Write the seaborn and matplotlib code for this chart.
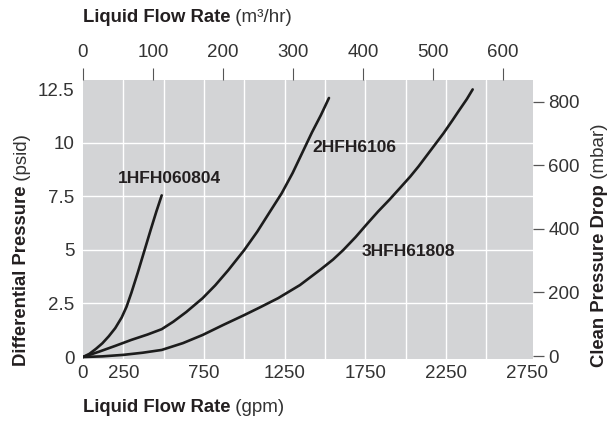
import pandas as pd
import numpy as np
import seaborn as sns
import matplotlib.pyplot as plt
import matplotlib

# curves: flow (gpm) vs differential pressure (psid)
gpm_1 = [0, 40, 80, 120, 160, 200, 240, 270, 300, 340, 380, 420, 455, 488]
psid_1 = [0, 0.15, 0.38, 0.64, 0.97, 1.35, 1.85, 2.35, 3.0, 3.95, 4.95, 5.95, 6.8, 7.55]

gpm_2 = [0, 100, 200, 300, 400, 488, 560, 640, 742, 820, 900, 1000, 1080, 1160,
         1232, 1300, 1360, 1420, 1475, 1525]
psid_2 = [0, 0.25, 0.52, 0.8, 1.05, 1.3, 1.65, 2.1, 2.75, 3.35, 4.05, 5.0, 5.85, 6.8,
          7.65, 8.6, 9.55, 10.5, 11.3, 12.1]

gpm_3 = [0, 120, 250, 370, 488, 620, 742, 870, 1000, 1100, 1210, 1345, 1475, 1550,
         1614, 1690, 1759, 1830, 1900, 1960, 2029, 2080, 2135, 2190, 2235, 2290, 2330,
         2380, 2416]
psid_3 = [0, 0.03, 0.1, 0.2, 0.33, 0.65, 1.03, 1.5, 1.96, 2.33, 2.75, 3.36, 4.1, 4.55,
          5.0, 5.6, 6.2, 6.8, 7.35, 7.85, 8.43, 8.9, 9.45, 10.0, 10.45, 11.05, 11.5,
          12.05, 12.5]

names = ['1HFH060804', '2HFH6106', '3HFH61808']
label_x = [539, 1680, 2015]
label_y = [8.36, 9.8, 4.95]

# axis ticks
gpm_ticks = [0, 250, 750, 1250, 1750, 2250, 2750]
gpm_grid = [250, 500, 750, 1000, 1250, 1500, 1750, 2000, 2250, 2500]
psid_ticks = [0, 2.5, 5, 7.5, 10, 12.5]
psid_labels = ['0', '2.5', '5', '7.5', '10', '12.5']
psid_grid = [2.5, 5, 7.5, 10]
m3hr_ticks = [0, 100, 200, 300, 400, 500, 600]
mbar_ticks = [0, 200, 400, 600, 800]

df = pd.concat([
    pd.DataFrame({'gpm': gpm_1, 'psid': psid_1, 'filter': names[0]}),
    pd.DataFrame({'gpm': gpm_2, 'psid': psid_2, 'filter': names[1]}),
    pd.DataFrame({'gpm': gpm_3, 'psid': psid_3, 'filter': names[2]}),
])

sns.set_theme(style='darkgrid', rc={'axes.facecolor': '#d3d4d6', 'grid.color': 'white',
                                    'grid.linewidth': 1.0})
plt.rcParams['font.family'] = ['Liberation Sans', 'DejaVu Sans']
plt.rcParams['text.color'] = '#231f20'
plt.rcParams['xtick.color'] = '#333333'
plt.rcParams['ytick.color'] = '#333333'

fig = plt.figure(figsize=(6.14, 4.22), dpi=100)
ax = fig.add_axes([83 / 614, 1 - 359 / 422, 450 / 614, 279 / 422])

sns.lineplot(data=df, x='gpm', y='psid', hue='filter', palette=['#1c1c1c'] * 3,
             sort=False, estimator=None, legend=False, lw=1.9, ax=ax)
for line in ax.get_lines():
    line.set_solid_capstyle('round')
    line.set_solid_joinstyle('round')

ax.set_xlim(0, 2790)
ax.set_ylim(-0.093, 12.94)
for s in ax.spines.values():
    s.set_visible(False)

# grid lines sit on minor ticks so they can differ from the labelled ticks
ax.grid(False)
ax.xaxis.remove_overlapping_locs = False
ax.yaxis.remove_overlapping_locs = False
ax.set_xticks(gpm_ticks)
ax.set_xticklabels([str(t) for t in gpm_ticks], fontsize=13.5)
ax.set_xticks(gpm_grid, minor=True)
ax.set_yticks(psid_ticks)
ax.set_yticklabels(psid_labels, fontsize=13.5)
ax.set_yticks(psid_grid, minor=True)
ax.grid(which='minor', color='white', lw=1.0)
ax.tick_params(which='both', length=0)
ax.tick_params(axis='x', pad=4)
ax.tick_params(axis='y', pad=6)
ax.set_xlabel('')
ax.set_ylabel('')

for n, lx, ly in zip(names, label_x, label_y):
    ax.text(lx, ly, n, ha='center', va='center', fontsize=12.5, fontweight='bold')

# top axis in m3/hr
top = ax.twiny()
top.set_xlim(0, 643)
top.set_xticks(m3hr_ticks)
top.set_xticklabels([str(t) for t in m3hr_ticks], fontsize=13.5)
top.tick_params(axis='x', length=9, width=0.8, color='#555555', pad=5)
top.grid(False)
for s in top.spines.values():
    s.set_visible(False)

# right axis in mbar
right = ax.twinx()
right.set_ylim(-9.4, 869)
right.set_yticks(mbar_ticks)
right.set_yticklabels([str(t) for t in mbar_ticks], fontsize=13.5)
right.tick_params(axis='y', length=8, width=0.9, color='#555555', pad=3)
right.grid(False)
for s in right.spines.values():
    s.set_visible(False)

bold = dict(fontsize=13.3, fontweight='bold')
light = dict(fontsize=13.5, color='#333333')

t1 = fig.text(83 / 614, 1 - 18 / 422, 'Liquid Flow Rate', ha='left', va='center', **bold)
b1 = fig.text(83 / 614, 1 - 407 / 422, 'Liquid Flow Rate', ha='left', va='center', **bold)
l1 = fig.text(22 / 614, 1 - 366 / 422, 'Differential Pressure', rotation=90, ha='center',
              va='bottom', **bold)
r1 = fig.text(600 / 614, 1 - 367 / 422, 'Clean Pressure Drop', rotation=90, ha='center',
              va='bottom', **bold)

fig.canvas.draw()
ax.annotate(' (m³/hr)', xy=(1, 0), xycoords=t1, ha='left', va='bottom', **light)
ax.annotate(' (gpm)', xy=(1, 0), xycoords=b1, ha='left', va='bottom', **light)
ax.annotate(' (psid)', xy=(1, 1), xycoords=l1, ha='right', va='bottom', rotation=90, **light)
ax.annotate(' (mbar)', xy=(1, 1), xycoords=r1, ha='right', va='bottom', rotation=90, **light)

fig.savefig('out.png', dpi=100)
